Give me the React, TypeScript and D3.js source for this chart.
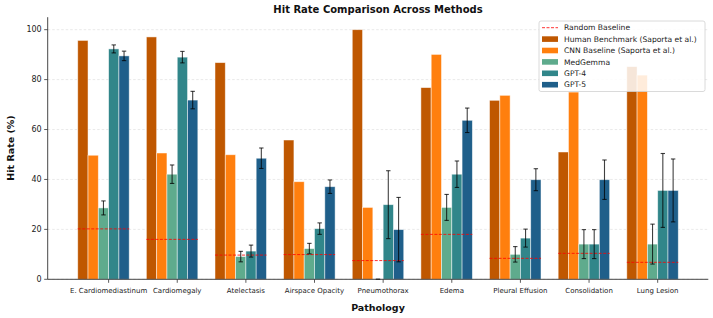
import React from "react";
import * as d3 from "d3";

const categories = ["E. Cardiomediastinum", "Cardiomegaly", "Atelectasis", "Airspace Opacity", "Pneumothorax", "Edema", "Pleural Effusion", "Consolidation", "Lung Lesion"];
const human = [95.7, 97.1, 86.8, 55.8, 100, 76.8, 71.7, 51.0, 85.2];
const cnn = [49.7, 50.6, 49.9, 39.1, 28.8, 90.1, 73.7, 75.0, 81.8];
const medgemma = [28.6, 42.1, 9.1, 12.3, 0, 28.8, 10.0, 14.1, 14.1];
const medgemmaErr = [2.8, 3.7, 2.1, 2.1, 0, 5.2, 3.1, 5.8, 8.0];
const gpt4 = [92.3, 89.0, 11.3, 20.3, 29.9, 42.1, 16.5, 14.1, 35.6];
const gpt4Err = [1.6, 2.3, 2.4, 2.3, 13.6, 5.3, 3.6, 5.8, 14.8];
const gpt5 = [89.5, 71.8, 48.5, 37.1, 19.9, 63.7, 39.9, 39.9, 35.6];
const gpt5Err = [1.9, 3.5, 4.1, 2.7, 12.9, 4.9, 4.4, 7.9, 12.6];
const randomBaseline = [20.2, 16.0, 9.7, 9.9, 7.5, 18.0, 8.4, 10.4, 6.8];
const yTicks = [0, 20, 40, 60, 80, 100];

const seriesNames = ["Human Benchmark (Saporta et al.)", "CNN Baseline (Saporta et al.)", "MedGemma", "GPT-4", "GPT-5"];
const seriesValues = [human, cnn, medgemma, gpt4, gpt5];
const seriesErrs: (number[] | null)[] = [null, null, medgemmaErr, gpt4Err, gpt5Err];
const seriesColors = ["#bf5700", "#ff7f0e", "#5fab8d", "#31868a", "#1f5f8a"];

const W = 713, H = 318;
const BW = 0.15;

export default function App() {
  const x = d3.scaleLinear().domain([-0.8875, 8.7375]).range([47.7, 708.3]);
  const y = d3.scaleLinear().domain([0, 105]).range([279.3, 17.2]);
  const font = "DejaVu Sans, sans-serif";
  const bw = x(BW) - x(0);

  return (
    <div style={{ position: "fixed", left: 0, top: 0 }}>
      <svg width={W} height={H} style={{ display: "block", background: "#fff" }} fontFamily={font}>
        {/* grid */}
        {yTicks.map((t) => (
          <line key={"g" + t} x1={x.range()[0]} x2={x.range()[1]} y1={y(t)} y2={y(t)} stroke="#b0b0b0" strokeOpacity={0.4} strokeWidth={0.7} strokeDasharray="2.5,2" />
        ))}
        {/* bars */}
        {seriesValues.map((vals, k) =>
          vals.map((v, i) => {
            const cx = i + (k - 2.5) * BW;
            return (
              <rect key={`b${k}-${i}`} x={x(cx - BW / 2)} y={y(v)} width={bw} height={y(0) - y(v)} fill={seriesColors[k]} stroke="#ffffff" strokeOpacity={0.6} strokeWidth={0.8} />
            );
          })
        )}
        {/* random baseline */}
        {randomBaseline.map((v, i) => (
          <line key={"r" + i} x1={x(i - 0.45)} x2={x(i + 0.3)} y1={y(v)} y2={y(v)} stroke="#ff0000" strokeOpacity={0.8} strokeWidth={1} strokeDasharray="3,1.5" />
        ))}
        {/* error bars */}
        {seriesValues.map((vals, k) => {
          const errs = seriesErrs[k];
          if (!errs) return null;
          return vals.map((v, i) => {
            const cx = x(i + (k - 2.5) * BW);
            const lo = y(Math.max(0, v - errs[i]));
            const hi = y(v + errs[i]);
            return (
              <g key={`e${k}-${i}`} stroke="#000" strokeOpacity={0.75} strokeWidth={1.1}>
                <line x1={cx} x2={cx} y1={lo} y2={hi} />
                <line x1={cx - 2.2} x2={cx + 2.2} y1={lo} y2={lo} />
                <line x1={cx - 2.2} x2={cx + 2.2} y1={hi} y2={hi} />
              </g>
            );
          });
        })}
        {/* axes */}
        <line x1={x.range()[0]} x2={x.range()[0]} y1={y(0)} y2={y(105)} stroke="#333" strokeWidth={0.9} />
        <line x1={x.range()[0]} x2={x.range()[1]} y1={y(0)} y2={y(0)} stroke="#333" strokeWidth={0.9} />
        {yTicks.map((t) => (
          <g key={"yt" + t}>
            <line x1={x.range()[0] - 3.5} x2={x.range()[0]} y1={y(t)} y2={y(t)} stroke="#333" strokeWidth={0.8} />
            <text x={x.range()[0] - 6} y={y(t)} dy="0.35em" textAnchor="end" fontSize={8} fill="#222">{t}</text>
          </g>
        ))}
        {categories.map((c, i) => (
          <g key={"xt" + i}>
            <line x1={x(i)} x2={x(i)} y1={y(0)} y2={y(0) + 3.5} stroke="#333" strokeWidth={0.8} />
            <text x={x(i)} y={y(0) + 13.5} textAnchor="middle" fontSize={7} fill="#222">{c}</text>
          </g>
        ))}
        {/* labels */}
        <text x={378} y={13} textAnchor="middle" fontSize={10} fontWeight="bold" fill="#111">Hit Rate Comparison Across Methods</text>
        <text x={378} y={311} textAnchor="middle" fontSize={9.5} fontWeight="bold" fill="#111">Pathology</text>
        <text transform={`translate(13.5,148) rotate(-90)`} textAnchor="middle" fontSize={9.5} fontWeight="bold" fill="#111">Hit Rate (%)</text>
        {/* legend */}
        <g>
          <rect x={539} y={21} width={166} height={70.5} rx={2} fill="#fff" fillOpacity={0.85} stroke="#d0d0d0" strokeWidth={0.8} />
          {["Random Baseline", ...seriesNames].map((name, j) => {
            const ly = 27.7 + j * 11.4;
            return (
              <g key={"l" + j}>
                {j === 0 ? (
                  <line x1={542} x2={558} y1={ly} y2={ly} stroke="#ff0000" strokeOpacity={0.8} strokeWidth={1} strokeDasharray="3,1.5" />
                ) : (
                  <rect x={542} y={ly - 2.8} width={16} height={5.6} fill={seriesColors[j - 1]} />
                )}
                <text x={564} y={ly} dy="0.35em" fontSize={7.6} fill="#222">{name}</text>
              </g>
            );
          })}
        </g>
      </svg>
    </div>
  );
}
